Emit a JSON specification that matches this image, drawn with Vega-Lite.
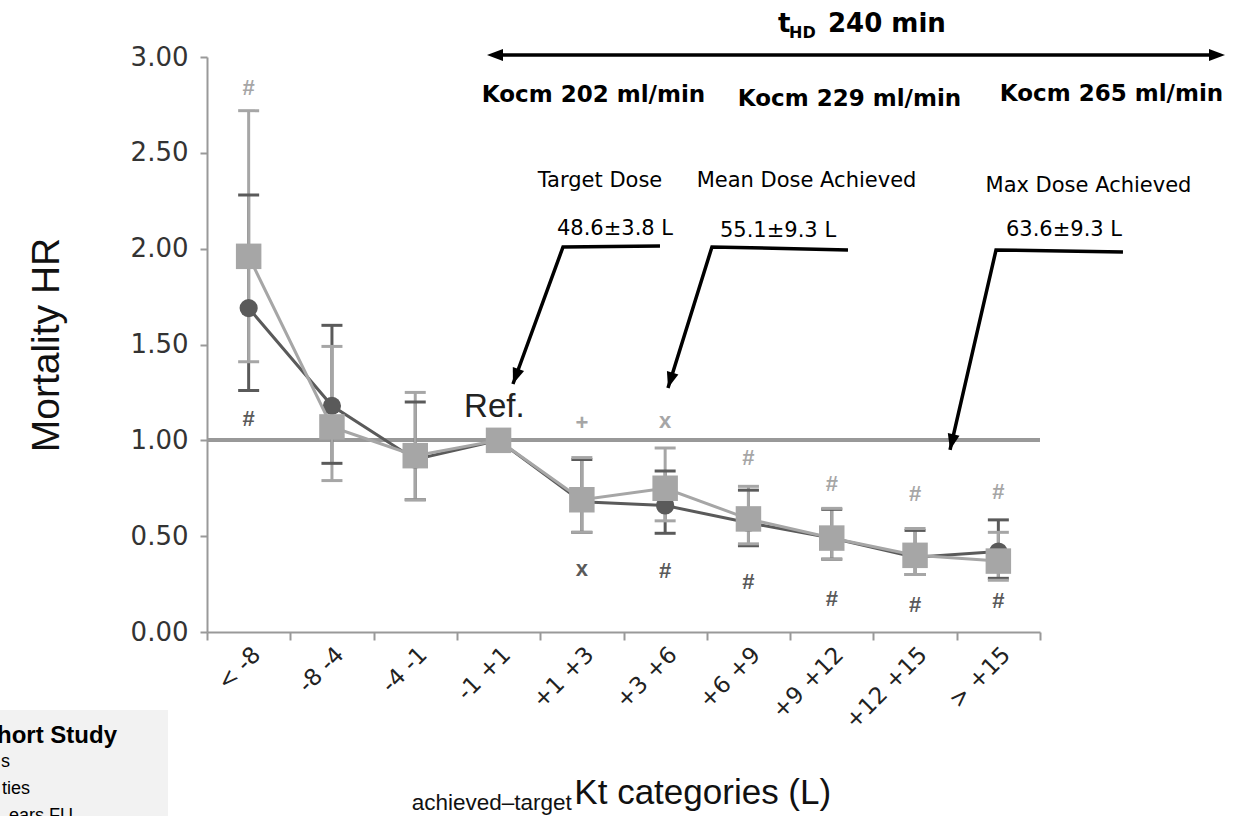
{
  "$schema": "https://vega.github.io/schema/vega-lite/v6.json",
  "width": 833,
  "height": 575,
  "autosize": "none",
  "padding": {"left": 207, "top": 57, "right": 193, "bottom": 184},
  "background": "white",
  "config": {"view": {"stroke": null}, "font": "Liberation Sans"},
  "datasets": {
    "series": [
      {"cat": "< -8", "s": "A", "hr": 1.69, "lo": 1.26, "hi": 2.28},
      {"cat": "-8 -4", "s": "A", "hr": 1.18, "lo": 0.88, "hi": 1.60},
      {"cat": "-4 -1", "s": "A", "hr": 0.90, "lo": 0.69, "hi": 1.20},
      {"cat": "-1 +1", "s": "A", "hr": 1.00, "lo": null, "hi": null},
      {"cat": "+1 +3", "s": "A", "hr": 0.68, "lo": 0.52, "hi": 0.90},
      {"cat": "+3 +6", "s": "A", "hr": 0.66, "lo": 0.515, "hi": 0.84},
      {"cat": "+6 +9", "s": "A", "hr": 0.57, "lo": 0.45, "hi": 0.74},
      {"cat": "+9 +12", "s": "A", "hr": 0.49, "lo": 0.38, "hi": 0.64},
      {"cat": "+12 +15", "s": "A", "hr": 0.39, "lo": 0.30, "hi": 0.53},
      {"cat": "> +15", "s": "A", "hr": 0.42, "lo": 0.28, "hi": 0.585},
      {"cat": "< -8", "s": "B", "hr": 1.96, "lo": 1.41, "hi": 2.72},
      {"cat": "-8 -4", "s": "B", "hr": 1.07, "lo": 0.79, "hi": 1.49},
      {"cat": "-4 -1", "s": "B", "hr": 0.92, "lo": 0.69, "hi": 1.25},
      {"cat": "-1 +1", "s": "B", "hr": 1.00, "lo": null, "hi": null},
      {"cat": "+1 +3", "s": "B", "hr": 0.69, "lo": 0.52, "hi": 0.91},
      {"cat": "+3 +6", "s": "B", "hr": 0.75, "lo": 0.58, "hi": 0.96},
      {"cat": "+6 +9", "s": "B", "hr": 0.59, "lo": 0.46, "hi": 0.76},
      {"cat": "+9 +12", "s": "B", "hr": 0.49, "lo": 0.38, "hi": 0.645},
      {"cat": "+12 +15", "s": "B", "hr": 0.40, "lo": 0.30, "hi": 0.54},
      {"cat": "> +15", "s": "B", "hr": 0.37, "lo": 0.27, "hi": 0.52}
    ],
    "sig": [
      {"cat": "< -8", "s": "B", "pos": 2.84, "lab": "#"},
      {"cat": "+1 +3", "s": "B", "pos": 1.09, "lab": "+"},
      {"cat": "+3 +6", "s": "B", "pos": 1.10, "lab": "x"},
      {"cat": "+6 +9", "s": "B", "pos": 0.91, "lab": "#"},
      {"cat": "+9 +12", "s": "B", "pos": 0.77, "lab": "#"},
      {"cat": "+12 +15", "s": "B", "pos": 0.72, "lab": "#"},
      {"cat": "> +15", "s": "B", "pos": 0.73, "lab": "#"},
      {"cat": "< -8", "s": "A", "pos": 1.11, "lab": "#"},
      {"cat": "+1 +3", "s": "A", "pos": 0.33, "lab": "x"},
      {"cat": "+3 +6", "s": "A", "pos": 0.32, "lab": "#"},
      {"cat": "+6 +9", "s": "A", "pos": 0.26, "lab": "#"},
      {"cat": "+9 +12", "s": "A", "pos": 0.17, "lab": "#"},
      {"cat": "+12 +15", "s": "A", "pos": 0.14, "lab": "#"},
      {"cat": "> +15", "s": "A", "pos": 0.16, "lab": "#"}
    ],
    "ann": [
      {"g": "big", "x": 6.355, "y": 3.130, "t": "t"},
      {"g": "sub", "x": 6.487, "y": 3.100, "t": "HD"},
      {"g": "big", "x": 6.955, "y": 3.130, "t": "240 min"},
      {"g": "kocm", "x": 4.140, "y": 2.765, "t": "Kocm 202 ml/min"},
      {"g": "kocm", "x": 7.213, "y": 2.744, "t": "Kocm 229 ml/min"},
      {"g": "kocm", "x": 10.358, "y": 2.771, "t": "Kocm 265 ml/min"},
      {"g": "dose", "x": 4.218, "y": 2.322, "t": "Target Dose"},
      {"g": "dose", "x": 6.697, "y": 2.322, "t": "Mean Dose Achieved"},
      {"g": "dose", "x": 10.082, "y": 2.296, "t": "Max Dose Achieved"},
      {"g": "dose", "x": 4.398, "y": 2.071, "t": "48.6±3.8 L"},
      {"g": "dose", "x": 6.355, "y": 2.061, "t": "55.1±9.3 L"},
      {"g": "dose", "x": 9.788, "y": 2.066, "t": "63.6±9.3 L"},
      {"g": "ref", "x": 2.95, "y": 1.122, "t": "Ref."},
      {"g": "xt", "x": 3.910, "y": -0.895, "t": "Kt categories (L)"},
      {"g": "xsub", "x": 3.880, "y": -0.929, "t": "achieved–target"},
      {"g": "legb", "x": -1.580, "y": -0.578, "t": "hort Study"},
      {"g": "leg", "x": -2.865, "y": -0.703, "t": "s"},
      {"g": "leg", "x": -2.625, "y": -0.845, "t": "ties"},
      {"g": "leg", "x": -2.109, "y": -0.987, "t": "ears FU"}
    ],
    "segs": [
      {"seg": "target", "ord": 0, "x": 4.938, "y": 2.014},
      {"seg": "target", "ord": 1, "x": 3.774, "y": 2.009},
      {"seg": "target", "ord": 2, "x": 3.173, "y": 1.294},
      {"seg": "mean", "ord": 0, "x": 7.195, "y": 1.993},
      {"seg": "mean", "ord": 1, "x": 5.562, "y": 2.009},
      {"seg": "mean", "ord": 2, "x": 5.034, "y": 1.273},
      {"seg": "max", "ord": 0, "x": 10.496, "y": 1.983},
      {"seg": "max", "ord": 1, "x": 8.972, "y": 1.993},
      {"seg": "max", "ord": 2, "x": 8.420, "y": 0.950}
    ],
    "heads": [
      {"id": "L", "x": 2.861, "y": 3.010},
      {"id": "R", "x": 11.721, "y": 3.010},
      {"id": "target", "x": 3.173, "y": 1.294},
      {"id": "mean", "x": 5.034, "y": 1.273},
      {"id": "max", "x": 8.420, "y": 0.950}
    ],
    "toparrow": [{"x": 2.95, "x2": 11.63, "y": 3.010}],
    "box": [{"x": -3.5, "x2": -0.968, "y": -0.407, "y2": -1.3}]
  },
  "layer": [
    {
      "layer": [
        {
          "data": {"name": "series"},
          "mark": {"type": "rule", "color": "#999999", "strokeWidth": 3},
          "encoding": {
            "y": {"datum": 1, "type": "quantitative"}
          }
        },
        {
          "data": {"name": "series"},
          "transform": [{"filter": "datum.s === 'A'"}],
          "mark": {"type": "rule", "strokeWidth": 3},
          "encoding": {
            "x": {"field": "cat", "type": "ordinal", "sort": ["< -8", "-8 -4", "-4 -1", "-1 +1", "+1 +3", "+3 +6", "+6 +9", "+9 +12", "+12 +15", "> +15"], "scale": {"paddingInner": 0, "paddingOuter": 0},
              "axis": {"title": null, "labelAngle": -45, "labelFont": "DejaVu Sans", "labelFontSize": 23, "labelColor": "#222222", "labelPadding": 3, "tickBand": "extent", "tickSize": 8, "tickColor": "#999999", "tickWidth": 2, "domainColor": "#999999", "domainWidth": 2, "grid": false}},
            "y": {"field": "lo", "type": "quantitative", "scale": {"domain": [0, 3], "nice": false, "zero": false},
              "axis": {"values": [0, 0.5, 1, 1.5, 2, 2.5, 3], "format": ".2f", "labelFont": "DejaVu Sans", "labelFontSize": 26, "labelColor": "#333333", "labelPadding": 12, "tickSize": 7, "tickColor": "#999999", "tickWidth": 2, "domainColor": "#999999", "domainWidth": 2, "grid": false, "title": "Mortality HR", "titleFontSize": 39, "titleFontWeight": "normal", "titleColor": "#111111", "titlePadding": 64}},
            "y2": {"field": "hi"},
            "color": {"field": "s", "type": "nominal", "scale": {"domain": ["A", "B"], "range": ["#5a5a5a", "#a6a6a6"]}, "legend": null}
          }
        },
        {
          "data": {"name": "series"},
          "transform": [{"filter": "datum.s === 'B'"}],
          "mark": {"type": "rule", "strokeWidth": 3},
          "encoding": {
            "x": {"field": "cat", "type": "ordinal", "sort": ["< -8", "-8 -4", "-4 -1", "-1 +1", "+1 +3", "+3 +6", "+6 +9", "+9 +12", "+12 +15", "> +15"]},
            "y": {"field": "lo", "type": "quantitative"},
            "y2": {"field": "hi"},
            "color": {"field": "s", "type": "nominal", "legend": null}
          }
        },
        {
          "data": {"name": "series"},
          "mark": {"type": "tick", "size": 21, "thickness": 3, "opacity": 1},
          "encoding": {
            "x": {"field": "cat", "type": "ordinal", "sort": ["< -8", "-8 -4", "-4 -1", "-1 +1", "+1 +3", "+3 +6", "+6 +9", "+9 +12", "+12 +15", "> +15"]},
            "y": {"field": "lo", "type": "quantitative"},
            "color": {"field": "s", "type": "nominal", "legend": null}
          }
        },
        {
          "data": {"name": "series"},
          "mark": {"type": "tick", "size": 21, "thickness": 3, "opacity": 1},
          "encoding": {
            "x": {"field": "cat", "type": "ordinal", "sort": ["< -8", "-8 -4", "-4 -1", "-1 +1", "+1 +3", "+3 +6", "+6 +9", "+9 +12", "+12 +15", "> +15"]},
            "y": {"field": "hi", "type": "quantitative"},
            "color": {"field": "s", "type": "nominal", "legend": null}
          }
        },
        {
          "data": {"name": "series"},
          "transform": [{"filter": "datum.s === 'A'"}],
          "mark": {"type": "line", "strokeWidth": 3},
          "encoding": {
            "x": {"field": "cat", "type": "ordinal", "sort": ["< -8", "-8 -4", "-4 -1", "-1 +1", "+1 +3", "+3 +6", "+6 +9", "+9 +12", "+12 +15", "> +15"]},
            "y": {"field": "hr", "type": "quantitative"},
            "color": {"field": "s", "type": "nominal", "legend": null}
          }
        },
        {
          "data": {"name": "series"},
          "transform": [{"filter": "datum.s === 'A'"}],
          "mark": {"type": "point", "shape": "circle", "filled": true, "size": 330, "opacity": 1},
          "encoding": {
            "x": {"field": "cat", "type": "ordinal", "sort": ["< -8", "-8 -4", "-4 -1", "-1 +1", "+1 +3", "+3 +6", "+6 +9", "+9 +12", "+12 +15", "> +15"]},
            "y": {"field": "hr", "type": "quantitative"},
            "color": {"field": "s", "type": "nominal", "legend": null}
          }
        },
        {
          "data": {"name": "series"},
          "transform": [{"filter": "datum.s === 'B'"}],
          "mark": {"type": "line", "strokeWidth": 3},
          "encoding": {
            "x": {"field": "cat", "type": "ordinal", "sort": ["< -8", "-8 -4", "-4 -1", "-1 +1", "+1 +3", "+3 +6", "+6 +9", "+9 +12", "+12 +15", "> +15"]},
            "y": {"field": "hr", "type": "quantitative"},
            "color": {"field": "s", "type": "nominal", "legend": null}
          }
        },
        {
          "data": {"name": "series"},
          "transform": [{"filter": "datum.s === 'B'"}],
          "mark": {"type": "point", "shape": "square", "filled": true, "size": 650, "opacity": 1},
          "encoding": {
            "x": {"field": "cat", "type": "ordinal", "sort": ["< -8", "-8 -4", "-4 -1", "-1 +1", "+1 +3", "+3 +6", "+6 +9", "+9 +12", "+12 +15", "> +15"]},
            "y": {"field": "hr", "type": "quantitative"},
            "color": {"field": "s", "type": "nominal", "legend": null}
          }
        },
        {
          "data": {"name": "sig"},
          "mark": {"type": "text", "fontWeight": "bold", "fontSize": 22, "baseline": "middle", "align": "center"},
          "encoding": {
            "x": {"field": "cat", "type": "ordinal", "sort": ["< -8", "-8 -4", "-4 -1", "-1 +1", "+1 +3", "+3 +6", "+6 +9", "+9 +12", "+12 +15", "> +15"]},
            "y": {"field": "pos", "type": "quantitative"},
            "text": {"field": "lab"},
            "color": {"field": "s", "type": "nominal", "legend": null}
          }
        }
      ]
    },
    {
      "layer": [
        {
          "data": {"name": "box"},
          "mark": {"type": "rect", "color": "#f2f2f2"},
          "encoding": {
            "x": {"field": "x", "type": "quantitative", "scale": {"domain": [-0.5, 9.5], "nice": false, "zero": false}, "axis": null},
            "x2": {"field": "x2"},
            "y": {"field": "y", "type": "quantitative", "scale": {"domain": [0, 3], "nice": false, "zero": false}, "axis": null},
            "y2": {"field": "y2"}
          }
        },
        {
          "data": {"name": "toparrow"},
          "mark": {"type": "rule", "color": "black", "strokeWidth": 3.5},
          "encoding": {
            "x": {"field": "x", "type": "quantitative", "axis": null},
            "x2": {"field": "x2"},
            "y": {"field": "y", "type": "quantitative", "axis": null}
          }
        },
        {
          "data": {"name": "segs"},
          "mark": {"type": "line", "color": "black", "strokeWidth": 3.5, "strokeCap": "butt"},
          "encoding": {
            "x": {"field": "x", "type": "quantitative", "axis": null},
            "y": {"field": "y", "type": "quantitative", "axis": null},
            "detail": {"field": "seg"},
            "order": {"field": "ord"}
          }
        },
        {
          "data": {"name": "heads"},
          "transform": [{"filter": "datum.id === 'L'"}],
          "mark": {"type": "point", "shape": "M0,0L-0.75,-2L0.75,-2Z", "filled": true, "color": "black", "opacity": 1, "size": 256, "angle": 90},
          "encoding": {
            "x": {"field": "x", "type": "quantitative", "axis": null},
            "y": {"field": "y", "type": "quantitative", "axis": null}
          }
        },
        {
          "data": {"name": "heads"},
          "transform": [{"filter": "datum.id === 'R'"}],
          "mark": {"type": "point", "shape": "M0,0L-0.75,-2L0.75,-2Z", "filled": true, "color": "black", "opacity": 1, "size": 256, "angle": 270},
          "encoding": {
            "x": {"field": "x", "type": "quantitative", "axis": null},
            "y": {"field": "y", "type": "quantitative", "axis": null}
          }
        },
        {
          "data": {"name": "heads"},
          "transform": [{"filter": "datum.id === 'target'"}],
          "mark": {"type": "point", "shape": "M0,0L-0.75,-2L0.75,-2Z", "filled": true, "color": "black", "opacity": 1, "size": 256, "angle": 20},
          "encoding": {
            "x": {"field": "x", "type": "quantitative", "axis": null},
            "y": {"field": "y", "type": "quantitative", "axis": null}
          }
        },
        {
          "data": {"name": "heads"},
          "transform": [{"filter": "datum.id === 'mean'"}],
          "mark": {"type": "point", "shape": "M0,0L-0.75,-2L0.75,-2Z", "filled": true, "color": "black", "opacity": 1, "size": 256, "angle": 17},
          "encoding": {
            "x": {"field": "x", "type": "quantitative", "axis": null},
            "y": {"field": "y", "type": "quantitative", "axis": null}
          }
        },
        {
          "data": {"name": "heads"},
          "transform": [{"filter": "datum.id === 'max'"}],
          "mark": {"type": "point", "shape": "M0,0L-0.75,-2L0.75,-2Z", "filled": true, "color": "black", "opacity": 1, "size": 256, "angle": 13},
          "encoding": {
            "x": {"field": "x", "type": "quantitative", "axis": null},
            "y": {"field": "y", "type": "quantitative", "axis": null}
          }
        },
        {
          "data": {"name": "ann"},
          "transform": [{"filter": "datum.g === 'big'"}],
          "mark": {"type": "text", "font": "DejaVu Sans", "fontWeight": "bold", "fontSize": 26, "align": "left", "baseline": "alphabetic", "color": "black"},
          "encoding": {
            "x": {"field": "x", "type": "quantitative", "axis": null},
            "y": {"field": "y", "type": "quantitative", "axis": null},
            "text": {"field": "t"}
          }
        },
        {
          "data": {"name": "ann"},
          "transform": [{"filter": "datum.g === 'sub'"}],
          "mark": {"type": "text", "font": "DejaVu Sans", "fontWeight": "bold", "fontSize": 16, "align": "left", "baseline": "alphabetic", "color": "black"},
          "encoding": {
            "x": {"field": "x", "type": "quantitative", "axis": null},
            "y": {"field": "y", "type": "quantitative", "axis": null},
            "text": {"field": "t"}
          }
        },
        {
          "data": {"name": "ann"},
          "transform": [{"filter": "datum.g === 'kocm'"}],
          "mark": {"type": "text", "font": "DejaVu Sans", "fontWeight": "bold", "fontSize": 23, "align": "center", "baseline": "alphabetic", "color": "black"},
          "encoding": {
            "x": {"field": "x", "type": "quantitative", "axis": null},
            "y": {"field": "y", "type": "quantitative", "axis": null},
            "text": {"field": "t"}
          }
        },
        {
          "data": {"name": "ann"},
          "transform": [{"filter": "datum.g === 'dose'"}],
          "mark": {"type": "text", "font": "DejaVu Sans", "fontSize": 21, "align": "center", "baseline": "alphabetic", "color": "black"},
          "encoding": {
            "x": {"field": "x", "type": "quantitative", "axis": null},
            "y": {"field": "y", "type": "quantitative", "axis": null},
            "text": {"field": "t"}
          }
        },
        {
          "data": {"name": "ann"},
          "transform": [{"filter": "datum.g === 'ref'"}],
          "mark": {"type": "text", "fontSize": 33, "align": "center", "baseline": "alphabetic", "color": "#222222"},
          "encoding": {
            "x": {"field": "x", "type": "quantitative", "axis": null},
            "y": {"field": "y", "type": "quantitative", "axis": null},
            "text": {"field": "t"}
          }
        },
        {
          "data": {"name": "ann"},
          "transform": [{"filter": "datum.g === 'xt'"}],
          "mark": {"type": "text", "fontSize": 35, "align": "left", "baseline": "alphabetic", "color": "#111111"},
          "encoding": {
            "x": {"field": "x", "type": "quantitative", "axis": null},
            "y": {"field": "y", "type": "quantitative", "axis": null},
            "text": {"field": "t"}
          }
        },
        {
          "data": {"name": "ann"},
          "transform": [{"filter": "datum.g === 'xsub'"}],
          "mark": {"type": "text", "fontSize": 22.5, "align": "right", "baseline": "alphabetic", "color": "#111111"},
          "encoding": {
            "x": {"field": "x", "type": "quantitative", "axis": null},
            "y": {"field": "y", "type": "quantitative", "axis": null},
            "text": {"field": "t"}
          }
        },
        {
          "data": {"name": "ann"},
          "transform": [{"filter": "datum.g === 'legb'"}],
          "mark": {"type": "text", "fontSize": 24, "fontWeight": "bold", "align": "right", "baseline": "alphabetic", "color": "black"},
          "encoding": {
            "x": {"field": "x", "type": "quantitative", "axis": null},
            "y": {"field": "y", "type": "quantitative", "axis": null},
            "text": {"field": "t"}
          }
        },
        {
          "data": {"name": "ann"},
          "transform": [{"filter": "datum.g === 'leg'"}],
          "mark": {"type": "text", "fontSize": 18, "align": "right", "baseline": "alphabetic", "color": "black"},
          "encoding": {
            "x": {"field": "x", "type": "quantitative", "axis": null},
            "y": {"field": "y", "type": "quantitative", "axis": null},
            "text": {"field": "t"}
          }
        }
      ]
    }
  ],
  "resolve": {"scale": {"x": "independent", "y": "independent"}}
}
